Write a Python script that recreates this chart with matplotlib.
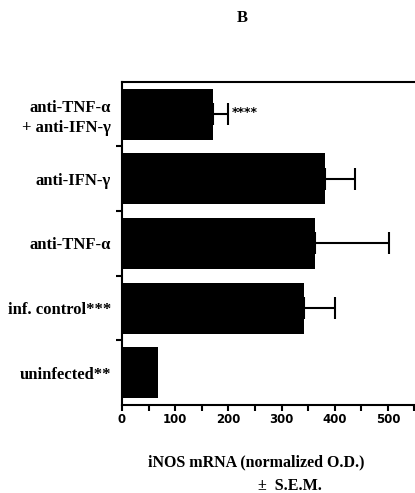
import matplotlib.pyplot as plt
import numpy as np

labels = ['uninfected**', 'inf. control***', 'anti-TNF-\u03b1', 'anti-IFN-\u03b3',
          'anti-TNF-\u03b1\n+ anti-IFN-\u03b3']
values = [68, 342, 363, 381, 171]
errors = [0, 58, 139, 57, 28]
xticks = [0, 100, 200, 300, 400, 500]

serif = ['Liberation Serif', 'DejaVu Serif']
fig = plt.figure(figsize=(4.15, 4.93), dpi=100)
ax = fig.add_axes([0.294, 0.1785, 0.706, 0.6555])

pos = np.arange(len(values))
ax.barh(pos, values, height=0.79, color='black')
# error bars only where there is one (uninfected has none)
for p, v, e in zip(pos, values, errors):
    if e > 0:
        ax.errorbar(v, p, xerr=[[0], [e]], fmt='none', ecolor='black',
                    elinewidth=1.5, capsize=8, capthick=1.5)
ax.set_xlim(0, 551)
ax.set_ylim(-0.5, len(values) - 0.5)

ax.set_xticks(xticks)
ax.set_xticks(np.arange(50, 551, 100), minor=True)
ax.set_xticklabels([str(v) for v in xticks], fontsize=8.5, fontweight='bold',
                   family='DejaVu Sans')
ax.tick_params(axis='x', which='both', direction='out', length=4, width=1.5, pad=2)

ax.set_yticks(pos)
ax.set_yticklabels(labels, family=serif, fontsize=12, fontweight='bold',
                   ha='right', multialignment='right', linespacing=1.3)
ax.tick_params(axis='y', which='major', length=0, pad=8)
ax.set_yticks(np.arange(0.5, len(values) - 1, 1), minor=True)
ax.tick_params(axis='y', which='minor', direction='out', length=4, width=1.5)

for s in ['left', 'bottom', 'top']:
    ax.spines[s].set_linewidth(1.5)
ax.spines['right'].set_visible(False)

ax.text(values[4] + errors[4] + 8, pos[4] + 0.02, '****', fontsize=9, fontweight='bold',
        va='center', ha='left')

fig.text(0.583, 0.963, 'B', family=serif, fontsize=12, fontweight='bold',
         ha='center', va='center')
fig.text(0.617, 0.063, 'iNOS mRNA (normalized O.D.)', family=serif, fontsize=11.5,
         fontweight='bold', ha='center', va='center')
fig.text(0.699, 0.015, '\u00b1  S.E.M.', family=serif, fontsize=11.5,
         fontweight='bold', ha='center', va='center')

fig.savefig('out.png', dpi=100)
